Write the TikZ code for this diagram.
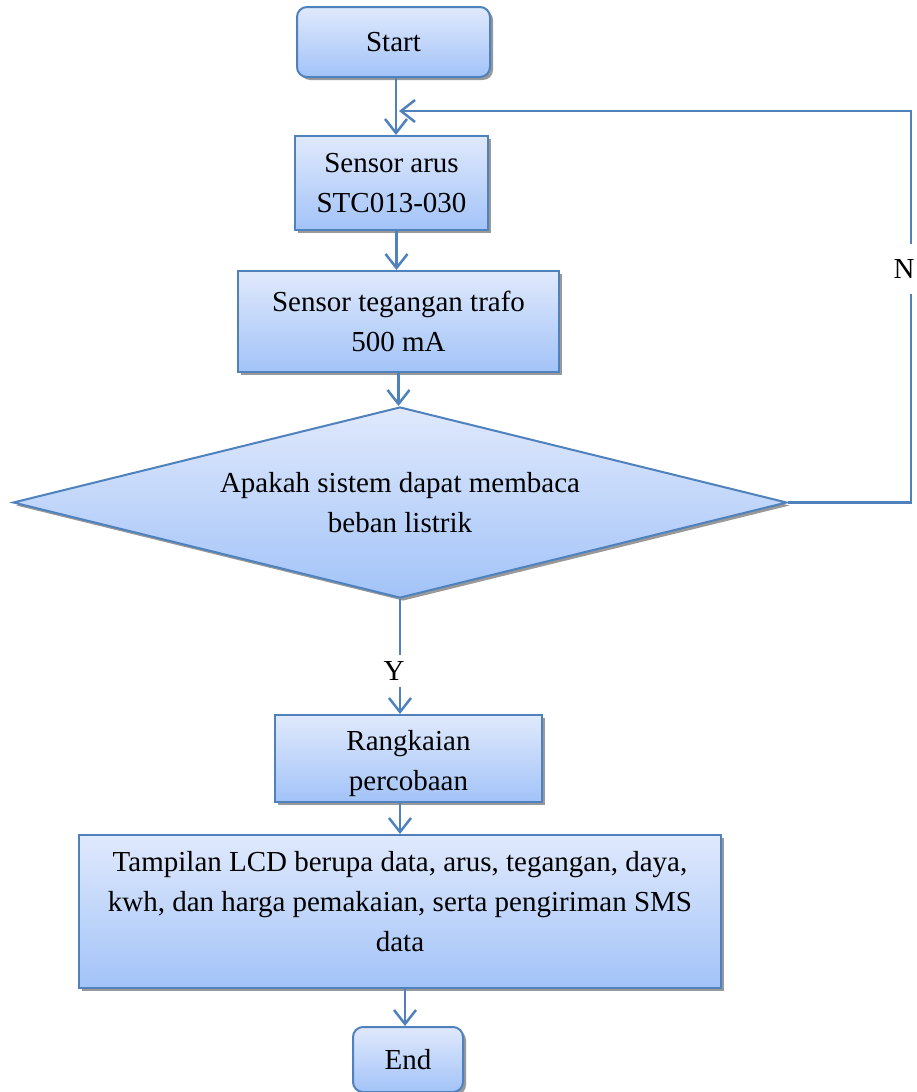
\documentclass[tikz,border=0pt]{standalone}
\usepackage{fontspec}
\setmainfont{Liberation Serif}
\usetikzlibrary{arrows.meta,shapes.geometric,shadows,calc}
\definecolor{wordblue}{RGB}{79,129,189}
\definecolor{filltop}{RGB}{224,233,252}
\definecolor{fillbot}{RGB}{162,195,248}
\tikzset{
  boxbase/.style={draw=wordblue, line width=2pt, top color=filltop, bottom color=fillbot,
    drop shadow={shadow xshift=3pt, shadow yshift=-3pt, fill=black!40, opacity=1},
    align=center, inner sep=0pt, font=\fontsize{29pt}{40pt}\selectfont},
  procbox/.style={boxbase, rectangle},
  termbox/.style={boxbase, rectangle, rounded corners=10pt},
  decbox/.style={boxbase, diamond, aspect=4.05},
  txt/.style={align=center, inner sep=0pt, font=\fontsize{29pt}{40pt}\selectfont},
  arr/.style={draw=wordblue, line width=2.5pt, -{Straight Barb[length=14pt,width=22pt,line width=2.5pt]}},
  lbl/.style={fill=white, inner xsep=1pt, inner ysep=0pt, font=\fontsize{29pt}{40pt}\selectfont}
}
\begin{document}
\begin{tikzpicture}[x=1pt,y=-1pt]
\useasboundingbox (0,0) rectangle (917,1092);
\node[termbox, minimum width=193pt, minimum height=70pt] (start) at (393.5,42) {Start};
\node[procbox, minimum width=193pt, minimum height=94pt] (sa) at (391.5,183) {Sensor arus\\STC013-030};
\node[procbox, minimum width=321pt, minimum height=101pt] (st) at (398.5,321.5) {Sensor tegangan trafo\\500 mA};
\node[decbox, minimum width=774pt, minimum height=191pt] (d) at (400,502.5) {Apakah sistem dapat membaca\\beban listrik};
\node[procbox, minimum width=267pt, minimum height=87pt] (r) at (408.5,758.5) {};
\node[txt] (rt) at (408.5,764) {Rangkaian\\percobaan};
\node[procbox, minimum width=642pt, minimum height=153pt] (lcd) at (400,911.5) {};
\node[txt] (lcdt) at (400,902) {Tampilan LCD berupa data, arus, tegangan, daya,\\kwh, dan harga pemakaian, serta pengiriman SMS\\data};
\node[termbox, minimum width=110pt, minimum height=65pt] (end) at (408,1059.5) {End};

\coordinate (fbr) at (911,111);
\coordinate (fbt) at (399,111);

\draw[arr] ([xshift=2.5pt]start.south) -- ([xshift=2.5pt]start.south |- sa.north);
\draw[arr] ([xshift=5pt]sa.south) -- ([xshift=5pt]sa.south |- st.north);
\draw[arr] (st.south) -- (st.south |- d.north);
\draw[arr] (d.south) -- (d.south |- r.north);
\draw[arr] (r.south -| lcd.north) -- (lcd.north);
\draw[arr] ([xshift=5pt]lcd.south) -- ([xshift=5pt]lcd.south |- end.north);
\draw[arr] (d.east) -- (d.east -| fbr) -- (fbr) -- (fbt);

\node[lbl, minimum height=50pt] (nlab) at (904,269) {N};
\node[lbl, minimum height=32pt] (ylab) at (394,671) {Y};
\end{tikzpicture}
\end{document}
